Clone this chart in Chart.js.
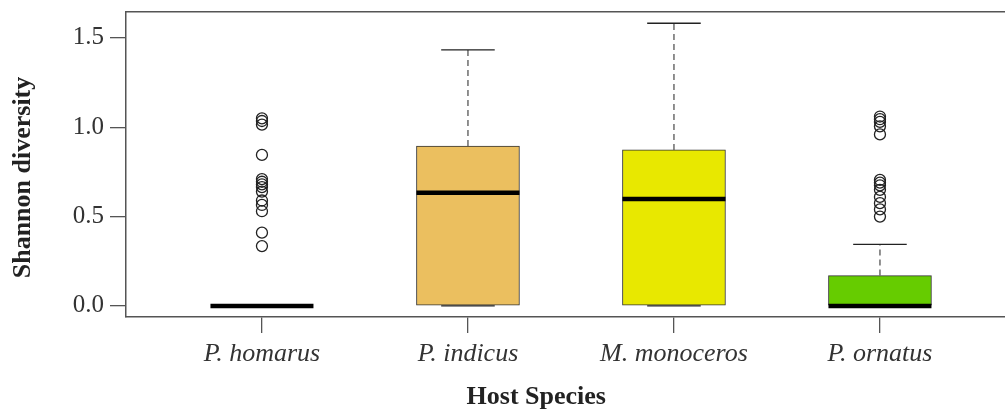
<!DOCTYPE html>
<html><head><meta charset="utf-8">
<script src="https://cdn.jsdelivr.net/npm/chart.js@4"></script>
<style>html,body{margin:0;padding:0;background:#fff;overflow:hidden}#wrap{width:1005px;height:409px;position:relative}</style>
</head><body><div id="wrap"><canvas id="c" width="1005" height="409"></canvas></div>
<script>
const categories = ['P. homarus', 'P. indicus', 'M. monoceros', 'P. ornatus'];
const boxColors = ['#FFFFFF', '#EBBF5F', '#E8E800', '#66CC00'];
const q1 = [0, 0, 0, 0];
const medians = [0, 0.634, 0.599, 0];
const q3 = [0, 0.895, 0.873, 0.17];
const whiskerLow = [0, 0, 0, 0];
const whiskerHigh = [0, 1.433, 1.582, 0.345];
const outliersHomarus = [1.05, 1.035, 1.015, 0.845, 0.71, 0.695, 0.68, 0.665, 0.64, 0.59, 0.565, 0.53, 0.41, 0.335];
const outliersOrnatus = [1.06, 1.045, 1.03, 1.005, 0.96, 0.705, 0.69, 0.675, 0.65, 0.61, 0.575, 0.54, 0.50];
const yTicks = [0, 0.5, 1.0, 1.5];
const xTitle = 'Host Species';
const yTitle = 'Shannon diversity';

const BOX_HALF = 0.25, CAP_HALF = 0.13;
const pos = categories.map((c, i) => i + 1);

const boxData = pos.map((x, i) => ({x: x, y: [q1[i], q3[i]]}));
const whiskerData = [];
const capData = [];
const medianData = [];
pos.forEach((x, i) => {
  whiskerData.push({x: x, y: q3[i]}, {x: x, y: whiskerHigh[i]}, {x: x, y: null});
  whiskerData.push({x: x, y: q1[i]}, {x: x, y: whiskerLow[i]}, {x: x, y: null});
  capData.push({x: x - CAP_HALF, y: whiskerHigh[i]}, {x: x + CAP_HALF, y: whiskerHigh[i]}, {x: x, y: null});
  capData.push({x: x - CAP_HALF, y: whiskerLow[i]}, {x: x + CAP_HALF, y: whiskerLow[i]}, {x: x, y: null});
  medianData.push({x: x - BOX_HALF, y: medians[i]}, {x: x + BOX_HALF, y: medians[i]}, {x: x, y: null});
});
const outlierData = outliersHomarus.map(v => ({x: 1, y: v})).concat(outliersOrnatus.map(v => ({x: 4, y: v})));

const AX = '#555';
const serif = "'Liberation Serif', 'Times New Roman', serif";
const NB = '\u00a0';

new Chart(document.getElementById('c'), {
  type: 'bar',
  data: {
    datasets: [
      {type: 'bar', data: boxData, backgroundColor: boxColors, borderColor: '#333', borderWidth: 1,
       borderSkipped: false, barThickness: 103, grouped: false, order: 5},
      {type: 'line', data: whiskerData, borderColor: '#555', borderWidth: 1.3, borderDash: [6, 4],
       pointRadius: 0, spanGaps: false, tension: 0, order: 4},
      {type: 'line', data: capData, borderColor: '#222', borderWidth: 1.3,
       pointRadius: 0, spanGaps: false, tension: 0, order: 3},
      {type: 'line', data: medianData, borderColor: '#000', borderWidth: 4.5, borderCapStyle: 'butt',
       pointRadius: 0, spanGaps: false, tension: 0, order: 2},
      {type: 'scatter', data: outlierData, pointStyle: 'circle', pointRadius: 5.5, borderWidth: 1.3,
       borderColor: '#222', backgroundColor: 'rgba(0,0,0,0)', order: 1}
    ]
  },
  options: {
    responsive: false,
    animation: false,
    devicePixelRatio: 1,
    layout: {padding: 0, autoPadding: false},
    plugins: {legend: {display: false}, tooltip: {enabled: false}},
    scales: {
      x: {
        type: 'linear', position: 'bottom', min: 0.34, max: 4.607, offset: false,
        afterBuildTicks: s => { s.ticks = pos.map(v => ({value: v})); },
        afterFit: s => { s.height = 92; s.paddingLeft = 0; s.paddingRight = 0; },
        ticks: {callback: (v, i) => categories[i], color: '#333', padding: 6, maxRotation: 0, autoSkip: false,
                font: {family: serif, size: 26, style: 'italic'}},
        grid: {drawOnChartArea: false, tickLength: 16, color: AX, lineWidth: 1.3, offset: false},
        border: {color: AX, width: 1.5},
        title: {display: true, text: xTitle + NB.repeat(9), color: '#222', padding: {top: 0, bottom: -4},
                font: {family: serif, size: 26, weight: 'bold'}}
      },
      x2: {
        type: 'linear', position: 'top', min: 0.34, max: 4.607,
        afterFit: s => { s.height = 12; s.paddingLeft = 0; s.paddingRight = 0; },
        ticks: {display: false},
        grid: {drawOnChartArea: false, drawTicks: false},
        border: {display: true, color: AX, width: 1.5}
      },
      y: {
        type: 'linear', min: -0.062, max: 1.645,
        afterBuildTicks: s => { s.ticks = yTicks.map(v => ({value: v})); },
        afterFit: s => { s.width = 126; s.paddingTop = 0; s.paddingBottom = 0; },
        ticks: {callback: v => Number(v).toFixed(1), color: '#333', padding: 6,
                font: {family: serif, size: 25}},
        grid: {drawOnChartArea: false, tickLength: 16, color: AX, lineWidth: 1.3},
        border: {color: AX, width: 1.5},
        title: {display: true, text: yTitle + NB.repeat(4), color: '#222', padding: {top: 8, bottom: 0},
                font: {family: serif, size: 26, weight: 'bold'}}
      }
    }
  }
});
</script>
</body></html>
